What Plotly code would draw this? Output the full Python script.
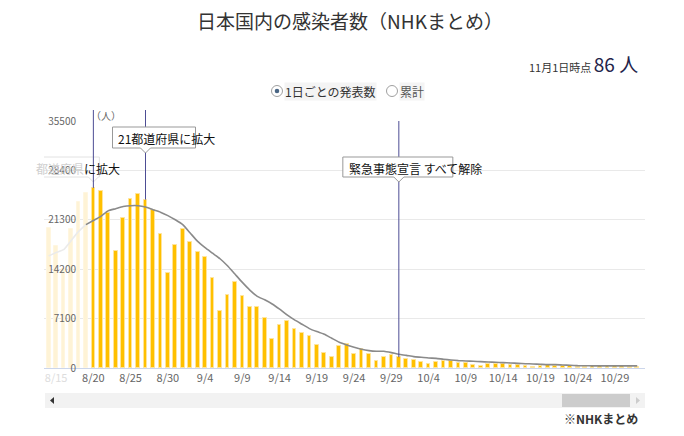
import pandas as pd
import plotly.graph_objects as go

# daily reported cases and 7-day average
dates = pd.date_range("2021-08-14", "2021-11-01").strftime("%Y-%m-%d").tolist()
daily = [
    20151, 17492, 14300, 19979, 23918, 25156, 25876, 25492, 22264, 16843,
    21570, 24319, 24970, 24200, 22749, 19297, 13636, 17700,
    20000, 18150, 16700, 15900, 12900, 8150, 10450, 12350, 10300, 8750,
    8750, 7150, 4200, 6200, 6700, 5600, 5000, 4650, 3250, 2150,
    1650, 3150, 3500, 2000, 2700, 2050, 1050, 1600, 1800, 1550,
    1300, 1200, 900, 600, 850, 1000, 960, 770, 670, 460,
    320, 600, 640, 620, 500, 480, 340, 180, 290, 380,
    290, 290, 280, 170, 150, 240, 240, 240, 240, 230,
    200, 86,
]
avg7 = [
    16100, 16600, 17000, 18300, 19600, 20600, 21200, 21800, 22600, 22900,
    23200, 23330, 23330, 23140, 22750, 22400, 21900, 21300,
    20600, 19400, 18200, 17300, 16500, 15700, 14700, 13500, 12300, 11200,
    10300, 9800, 9200, 8450, 7630, 6910, 6290, 5660, 5230, 4850,
    4270, 3700, 3310, 2980, 2690, 2500, 2400, 2400, 2210, 1970,
    1820, 1630, 1540, 1440, 1390, 1250, 1150, 1060, 1010, 960,
    910, 860, 820, 770, 720, 670, 620, 580, 530, 480,
    480, 430, 390, 340, 320, 310, 310, 300, 300, 300,
    300, 300,
]
y_ticks = [0, 7100, 14200, 21300, 28400, 35500]
y_labels = [str(v) for v in y_ticks]
tick_dates = dates[1::5]
tick_labels = [f"{int(d[5:7])}/{int(d[8:10])}" for d in tick_dates]
events = [
    ("2021-08-20", "都道府県", "に拡大"),
    ("2021-08-27", "", "21都道府県に拡大"),
    ("2021-09-30", "", "緊急事態宣言 すべて解除"),
]
n_faded = 6  # days hidden under the scroll fade

FONT = "Noto Sans CJK JP, Noto Sans, sans-serif"
OFF = 8                      # page body margin
W, H = 684 - OFF, 436 - OFF
L, R, T, B = 44, 645, 121, 368   # plot box in page pixels


def px(xp):
    return (xp - L) / (R - L)


def py(yp):
    return (B - yp) / (B - T)


bar_colors = ["#fef3d6" if i < n_faded else "#ffc000" for i in range(len(dates))]
bar_lines = ["#fff6e0" if i < n_faded else "#ffe49a" for i in range(len(dates))]
tick_text = [f"<span style='color:#dddddd'>{t}</span>" if i == 0 else t
             for i, t in enumerate(tick_labels)]

fig = go.Figure()
fig.add_trace(go.Bar(
    x=dates, y=daily, width=0.5 * 86400000,
    marker=dict(color=bar_colors, line=dict(color=bar_lines, width=1)),
    hoverinfo="skip", showlegend=False,
))
fig.add_trace(go.Scatter(
    x=dates[:n_faded], y=avg7[:n_faded], mode="lines",
    line=dict(color="#ebebeb", width=1.6, shape="spline", smoothing=0.5),
    hoverinfo="skip", showlegend=False,
))
fig.add_trace(go.Scatter(
    x=dates[n_faded - 1:], y=avg7[n_faded - 1:], mode="lines",
    line=dict(color="#8a8a8a", width=1.6, shape="spline", smoothing=0.5),
    hoverinfo="skip", showlegend=False,
))
# dummy trace so the label axis is drawn
fig.add_trace(go.Scatter(
    x=[dates[0]], y=[0], yaxis="y2", mode="markers",
    marker=dict(opacity=0), hoverinfo="skip", showlegend=False,
))

shapes = []
# event flag lines
for i, (d, _, _) in enumerate(events):
    v = daily[dates.index(d)]
    shapes.append(dict(type="line", xref="x", yref="y", x0=d, x1=d, y0=v, y1=y_ticks[-1],
                       line=dict(color="#4d4d94", width=1), layer="above"))
    if i < 2:
        shapes.append(dict(type="line", xref="x", yref="paper", x0=d, x1=d,
                           y0=1, y1=py(110), line=dict(color="#4d4d94", width=1),
                           layer="above"))


def callout(l, r, top, bot, tip=5):
    return (f"M{l},{top} L{r},{top} L{r},{bot} L{tip},{bot} L0,{bot - tip} "
            f"L{-tip},{bot} L{l},{bot} Z")


boxes = [
    (-60, 6, -36, -56, "#e2e2e2", "below"),
    (-33, 50, -6, -27, "#999999", "above"),
    (-56, 54, -36, -56, "#999999", "above"),
]
for (d, _, _), (l, r, top, bot, col, layer) in zip(events, boxes):
    shapes.append(dict(type="path", xref="x", yref="paper", xsizemode="pixel",
                       ysizemode="pixel", xanchor=d, yanchor=1,
                       path=callout(l, r, top, bot), fillcolor="white",
                       line=dict(color=col, width=1), layer=layer))

# radio buttons
for cx, sel in [(277, True), (392, False)]:
    shapes.append(dict(type="circle", xref="paper", yref="paper",
                       x0=px(cx - 5.5), x1=px(cx + 5.5), y0=py(96.5), y1=py(85.5),
                       line=dict(color="#a0a0a0", width=1), fillcolor="white"))
    if sel:
        shapes.append(dict(type="circle", xref="paper", yref="paper",
                           x0=px(cx - 2.3), x1=px(cx + 2.3), y0=py(93.3), y1=py(88.7),
                           line=dict(width=0), fillcolor="#4a6684"))

# scrollbar
shapes.append(dict(type="rect", xref="paper", yref="paper", x0=px(45), x1=px(645),
                   y0=py(408), y1=py(393), fillcolor="#f2f2f2", line=dict(width=0)))
shapes.append(dict(type="rect", xref="paper", yref="paper", x0=px(562), x1=px(630),
                   y0=py(407), y1=py(394), fillcolor="#cccccc", line=dict(width=0)))
shapes.append(dict(type="path", xref="paper", yref="paper",
                   path=f"M{px(50)},{py(400.5)} L{px(54)},{py(397)} L{px(54)},{py(404)} Z",
                   fillcolor="#333333", line=dict(width=0)))
shapes.append(dict(type="path", xref="paper", yref="paper",
                   path=f"M{px(640)},{py(400.5)} L{px(636)},{py(397)} L{px(636)},{py(404)} Z",
                   fillcolor="#cccccc", line=dict(width=0)))

annotations = []
shifts = [(-59, -47), (-30, -17), (-52, -47)]
for (d, faded, txt), (xs, ys) in zip(events, shifts):
    label = (f"<span style='color:#d0d0d0'>{faded}</span>" if faded else "") + txt
    annotations.append(dict(x=d, y=1, xref="x", yref="paper", text=label,
                            showarrow=False, xanchor="left", yanchor="middle",
                            xshift=xs, yshift=ys, font=dict(size=12, color="#111111")))

annotations += [
    dict(x=px(89), y=py(115), xref="paper", yref="paper", text="（人）",
         showarrow=False, yanchor="middle", font=dict(size=10, color="#666666")),
    dict(x=px(640), y=py(64), xref="paper", yref="paper", xanchor="right",
         yanchor="middle",
         text="11月1日時点 <span style='font-size:19px;color:#23234a'>86 人</span>",
         showarrow=False, font=dict(size=11, color="#333333")),
    dict(x=px(284), y=py(91), xref="paper", yref="paper", xanchor="left",
         yanchor="middle", text="1日ごとの発表数", showarrow=False,
         bgcolor="#f4f4f4", borderpad=0, font=dict(size=12, color="#333333")),
    dict(x=px(399), y=py(91), xref="paper", yref="paper", xanchor="left",
         yanchor="middle", text="累計", showarrow=False,
         bgcolor="#f4f4f4", borderpad=0, font=dict(size=12, color="#555555")),
    dict(x=px(640), y=py(418), xref="paper", yref="paper", xanchor="right",
         yanchor="middle", text="<b>※NHKまとめ</b>", showarrow=False,
         font=dict(size=12, color="#333333")),
]

fig.update_layout(
    width=W, height=H, autosize=False,
    margin=dict(l=L - OFF, r=W - (R - OFF), t=T - OFF, b=H - (B - OFF)),
    paper_bgcolor="white", plot_bgcolor="white",
    font=dict(family=FONT, color="#333333"),
    title=dict(text="日本国内の感染者数（NHKまとめ）", x=0.5 + OFF / 2 / W, xanchor="center",
               y=1 - (22 - OFF) / H, yanchor="middle", font=dict(size=19, color="#333333")),
    bargap=0,
    xaxis=dict(type="date", range=["2021-08-13 09:00", "2021-11-02 01:00"],
               tickvals=tick_dates, ticktext=tick_text, showgrid=False,
               showline=True, linecolor="#ccd6eb", linewidth=1, ticks="",
               tickfont=dict(size=11, color="#666666"), fixedrange=True),
    yaxis=dict(range=[0, 35500], tickvals=y_ticks, showticklabels=False,
               gridcolor="#e9e9e9", zeroline=False, fixedrange=True),
    yaxis2=dict(range=[0, 35500], tickvals=y_ticks, ticktext=y_labels, overlaying="y",
                anchor="free", position=px(76), side="left", showgrid=False,
                zeroline=False, showline=False, ticks="",
                tickfont=dict(size=10, color="#666666"), fixedrange=True),
    shapes=shapes,
    annotations=annotations,
)

fig.write_html("out.html")
